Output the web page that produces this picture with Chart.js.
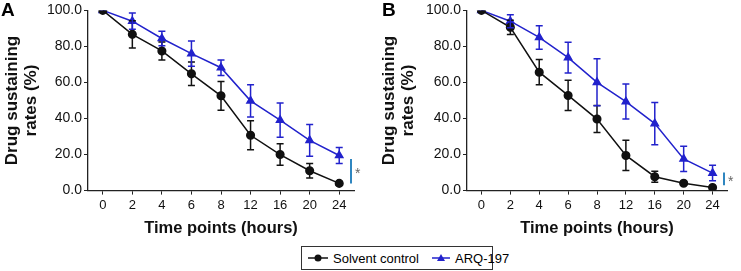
<!DOCTYPE html>
<html><head><meta charset="utf-8">
<script src="https://cdn.jsdelivr.net/npm/chart.js@4"></script>
<style>
html,body{margin:0;padding:0;background:#fff;}
#wrap{position:relative;width:741px;height:271px;overflow:hidden;font-family:"Liberation Sans",Arial,sans-serif;}
.pan{position:absolute;top:0;height:238px;}
.lab{position:absolute;top:-1px;font-weight:bold;font-size:19px;color:#000;}
#legend{position:absolute;left:301px;top:246px;width:192px;height:24px;border:1px solid #333;box-sizing:border-box;display:flex;align-items:center;font-size:13px;color:#000;white-space:nowrap;}
#legend canvas{margin-left:6px;margin-right:5px;}
</style></head>
<body><div id="wrap">
<div class="pan" style="left:0;width:370px"><canvas id="cA" width="370" height="238"></canvas></div>
<div class="pan" style="left:370px;width:371px"><canvas id="cB" width="371" height="238"></canvas></div>
<div class="lab" style="left:1px">A</div>
<div class="lab" style="left:382px">B</div>
<div id="legend"><canvas id="lg1" width="20" height="10"></canvas><span>Solvent control</span><canvas id="lg2" width="18" height="10" style="margin-left:13px"></canvas><span>ARQ-197</span></div>
</div>
<script>
const times = ['0','2','4','6','8','12','16','20','24'];
const yTicks = [0,20,40,60,80,100];
const seriesNames = ['Solvent control','ARQ-197'];
const A_control = [100, 86.7, 77.5, 64.8, 52.6, 30.7, 20, 11, 4];
const A_controlErr = [0, 7.5, 5, 6.5, 8, 8, 6, 4, 1];
const A_arq = [100, 94, 84.4, 76, 68.2, 49.8, 39.1, 27.9, 19.5];
const A_arqErr = [0, 4.5, 4, 7, 4.3, 9, 9.5, 8.8, 4.4];
const B_control = [100, 90.6, 65.7, 52.8, 39.7, 19.5, 7.7, 4.1, 1.7];
const B_controlErr = [0, 4, 7, 8.4, 7.5, 8.4, 3, 1, 1];
const B_arq = [100, 94, 85, 73.8, 60.1, 49.4, 37.2, 17.6, 9.7];
const B_arqErr = [0, 3.6, 6.5, 8.5, 13, 9.7, 11.7, 7, 4.3];
const A_sig = [17.5, 4];
const B_sig = [10, 3];

const BLACK = '#111111', BLUE = '#2222cc', SIG = '#2f86c0';
const FONT = '"Liberation Sans", Arial, sans-serif';

const errPlugin = {
  id:'errbars',
  afterDatasetsDraw(chart){
    const ctx = chart.ctx, y = chart.scales.y;
    chart.data.datasets.forEach((ds,i)=>{
      const meta = chart.getDatasetMeta(i);
      ctx.save();
      ctx.strokeStyle = ds.borderColor; ctx.lineWidth = 1.5;
      ds.errors.forEach((e,j)=>{
        if(!e) return;
        const x = meta.data[j].x;
        const t = y.getPixelForValue(ds.data[j]+e), b = y.getPixelForValue(ds.data[j]-e);
        ctx.beginPath();
        ctx.moveTo(x,t); ctx.lineTo(x,b);
        ctx.moveTo(x-3.5,t); ctx.lineTo(x+3.5,t);
        ctx.moveTo(x-3.5,b); ctx.lineTo(x+3.5,b);
        ctx.stroke();
      });
      ctx.restore();
    });
    const sig = chart.options.plugins.sig;
    if(sig){
      const ca = chart.chartArea;
      const xs = ca.right + sig.dx;
      ctx.save();
      ctx.strokeStyle = SIG; ctx.lineWidth = 2;
      ctx.beginPath();
      ctx.moveTo(xs, y.getPixelForValue(sig.range[0]));
      ctx.lineTo(xs, y.getPixelForValue(sig.range[1]));
      ctx.stroke();
      ctx.fillStyle = '#666'; ctx.font = '14px '+FONT; ctx.textAlign='left'; ctx.textBaseline='middle';
      ctx.fillText('*', xs+4, y.getPixelForValue((sig.range[0]+sig.range[1])/2)+3);
      ctx.restore();
    }
  }
};

function makeChart(id, ctrl, ctrlErr, arq, arqErr, sig, yw, padL, padR){
  return new Chart(document.getElementById(id), {
    type:'line',
    data:{labels:times, datasets:[
      {label:seriesNames[0], data:ctrl, errors:ctrlErr, borderColor:BLACK, backgroundColor:BLACK, borderWidth:1.5, pointStyle:'circle', pointRadius:3.8, tension:0},
      {label:seriesNames[1], data:arq, errors:arqErr, borderColor:BLUE, backgroundColor:BLUE, borderWidth:1.5, pointStyle:'triangle', pointRadius:4.2, tension:0}
    ]},
    options:{
      responsive:false, animation:false,
      layout:{padding:{top:4,right:padR,left:padL,bottom:0}},
      plugins:{legend:{display:false}, tooltip:{enabled:false}, sig:{range:sig, dx:-3}},
      scales:{
        x:{type:'category', offset:true,
          grid:{display:true, drawOnChartArea:false, drawTicks:true, tickLength:4, color:'#222', offset:false},
          border:{display:true,color:'#222',width:1.3},
          ticks:{color:'#111', font:{family:FONT,size:13}, padding:3, maxRotation:0},
          title:{display:true, text:'Time points (hours)', color:'#111', font:{family:FONT,size:16.5,weight:'bold'}, padding:{top:2,bottom:0}}
        },
        y:{min:0,max:100,
          afterBuildTicks(s){ s.ticks = yTicks.map(v=>({value:v})); },
          afterFit(s){ s.width = yw; },
          grid:{display:true, drawOnChartArea:false, drawTicks:true, tickLength:4, color:'#222'},
          border:{display:true,color:'#222',width:1.3},
          ticks:{color:'#111', font:{family:FONT,size:14}, padding:2, callback:v=>Number(v).toFixed(1)},
          title:{display:true, text:['Drug sustaining','rates (%)'], color:'#111', font:{family:FONT,size:17,weight:'bold',lineHeight:1.1}, padding:{top:0,bottom:4}}
        }
      }
    },
    plugins:[errPlugin]
  });
}
makeChart('cA', A_control, A_controlErr, A_arq, A_arqErr, A_sig, 85, 3, 16);
makeChart('cB', B_control, B_controlErr, B_arq, B_arqErr, B_sig, 87, 10, 14);

function legendIcon(id, color, style){
  const cv = document.getElementById(id), c = cv.getContext('2d'), w = cv.width, m = w/2;
  c.strokeStyle=color; c.fillStyle=color; c.lineWidth=1.5;
  c.beginPath(); c.moveTo(0,5); c.lineTo(w,5); c.stroke();
  c.beginPath();
  if(style==='circle'){ c.arc(m,5,3.5,0,Math.PI*2); }
  else { c.moveTo(m,1); c.lineTo(m+4,8); c.lineTo(m-4,8); c.closePath(); }
  c.fill();
}
legendIcon('lg1', BLACK, 'circle');
legendIcon('lg2', BLUE, 'triangle');
</script>
</body></html>
